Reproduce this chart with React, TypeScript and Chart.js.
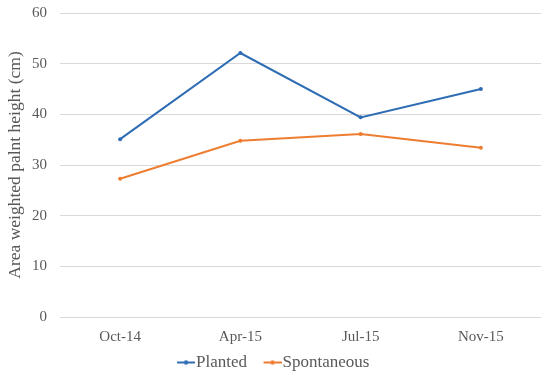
import React, { useEffect, useRef } from "react";
import { Chart, registerables } from "chart.js";

Chart.register(...registerables);

const categories = ["Oct-14", "Apr-15", "Jul-15", "Nov-15"];
const planted = [35.1, 52.1, 39.4, 45.0];
const spontaneous = [27.3, 34.8, 36.1, 33.4];
const yTitle = "Area weighted palnt height (cm)";

const BLUE = "#2E6DB4";
const ORANGE = "#ED7D31";
const TEXT = "#595959";
const FONT = "'Liberation Serif', 'Times New Roman', serif";

const LEGEND_SHIFT_Y = 4;
const LEGEND_SHIFT_X = -5;

function legendIcon(color: string) {
  const c = document.createElement("canvas");
  c.width = 41;
  c.height = 8;
  const ctx = c.getContext("2d")!;
  ctx.strokeStyle = color;
  ctx.lineWidth = 2;
  ctx.beginPath();
  ctx.moveTo(23, 4);
  ctx.lineTo(41, 4);
  ctx.stroke();
  ctx.fillStyle = color;
  ctx.beginPath();
  ctx.arc(32, 4, 2.2, 0, Math.PI * 2);
  ctx.fill();
  return c;
}

const shiftLegend = {
  id: "shiftLegend",
  afterLayout(chart: any) {
    if (chart.legend) {
      chart.legend.top += LEGEND_SHIFT_Y;
      chart.legend.bottom += LEGEND_SHIFT_Y;
      chart.legend.left += LEGEND_SHIFT_X;
      chart.legend.right += LEGEND_SHIFT_X;
    }
  },
};

export default function App() {
  const ref = useRef<HTMLCanvasElement>(null);
  useEffect(() => {
    document.body.style.margin = "0";
    const chart = new Chart(ref.current!, {
      type: "line",
      data: {
        labels: categories,
        datasets: [
          {
            label: "Planted",
            data: planted,
            borderColor: BLUE,
            backgroundColor: BLUE,
            borderWidth: 2,
            pointRadius: 2,
            pointBorderWidth: 0,
          },
          {
            label: "Spontaneous",
            data: spontaneous,
            borderColor: ORANGE,
            backgroundColor: ORANGE,
            borderWidth: 2,
            pointRadius: 2,
            pointBorderWidth: 0,
          },
        ],
      },
      plugins: [shiftLegend],
      options: {
        animation: false,
        responsive: false,
        layout: { padding: { top: 13, right: 9, left: 0, bottom: 0 } },
        plugins: {
          tooltip: { enabled: false },
          legend: {
            position: "bottom",
            labels: {
              color: TEXT,
              font: { family: FONT, size: 17 },
              usePointStyle: true,
              pointStyleWidth: 26,
              padding: 1,
              generateLabels: (ch: any) =>
                ch.data.datasets.map((ds: any, i: number) => ({
                  text: ds.label,
                  pointStyle: legendIcon(ds.borderColor),
                  fillStyle: ds.borderColor,
                  strokeStyle: ds.borderColor,
                  lineWidth: 0,
                  datasetIndex: i,
                  fontColor: TEXT,
                })),
            },
          },
        },
        scales: {
          x: {
            offset: true,
            grid: { display: false },
            border: { display: false },
            ticks: { color: TEXT, font: { family: FONT, size: 15 }, padding: 3, maxRotation: 0 },
          },
          y: {
            min: 0,
            max: 60,
            ticks: { stepSize: 10, color: TEXT, font: { family: FONT, size: 15 }, padding: 13 },
            grid: { color: "#D9D9D9", drawTicks: false, lineWidth: 1 },
            border: { display: false },
            title: {
              display: true,
              text: yTitle,
              color: TEXT,
              font: { family: FONT, size: 17.5 },
              padding: { top: 5, bottom: 0 },
            },
            afterFit: (s: any) => {
              s.width = 60;
              s.paddingTop = 0;
              s.paddingBottom = 0;
            },
          },
        },
      },
    });
    return () => chart.destroy();
  }, []);
  return <canvas ref={ref} width={550} height={377} style={{ display: "block" }} />;
}
